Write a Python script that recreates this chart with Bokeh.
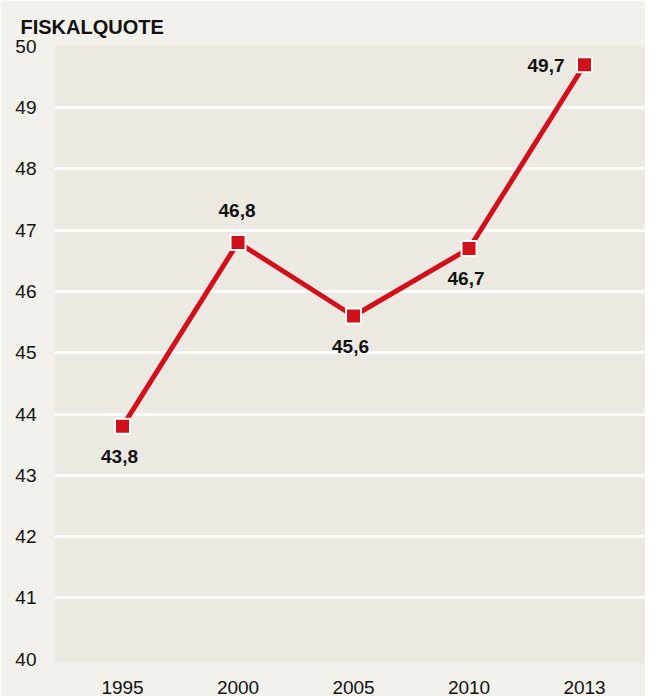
from bokeh.plotting import figure
from bokeh.models import ColumnDataSource, FixedTicker, Grid, Range1d
from bokeh.core.properties import value
from bokeh.embed import file_html
from bokeh.resources import INLINE

# ---- data ----
title = "FISKALQUOTE"
years = ["1995", "2000", "2005", "2010", "2013"]
quote = [43.8, 46.8, 45.6, 46.7, 49.7]
value_labels = ["43,8", "46,8", "45,6", "46,7", "49,7"]
label_side = ["below", "above", "below", "below", "left"]
y_ticks = [40, 41, 42, 43, 44, 45, 46, 47, 48, 49, 50]

RED = "#d0111b"
PLOT_BG = "#ece9e2"
OUTER_BG = "#f3f1ec"
FONT = "Liberation Sans"

idx = list(range(len(years)))

p = figure(width=645, height=696, output_backend="svg", toolbar_location=None,
           x_range=Range1d(-0.589, len(years) - 1 + 0.528),
           y_range=Range1d(39.93, 50.03),
           min_border_left=54, min_border_right=0, min_border_top=44, min_border_bottom=25)

p.title.text = title
p.title.text_font = FONT
p.title.text_font_style = "bold"
p.title.text_font_size = "20px"
p.title.text_color = "#111111"
p.title.align = "left"
p.title.offset = -34
p.title.standoff = 14

p.background_fill_color = PLOT_BG
p.border_fill_color = OUTER_BG
p.outline_line_color = None

p.xgrid.visible = False
p.ygrid.visible = False
grid = Grid(dimension=1, ticker=FixedTicker(ticks=y_ticks[1:-1]),
            grid_line_color="white", grid_line_width=2.5)
p.add_layout(grid)

for ax in (p.xaxis, p.yaxis):
    ax.axis_line_color = None
    ax.major_tick_line_color = None
    ax.minor_tick_line_color = None
    ax.major_label_text_font = FONT
    ax.major_label_text_font_size = "19px"
    ax.major_label_text_color = "#111111"

p.yaxis.ticker = FixedTicker(ticks=y_ticks)
p.yaxis.major_label_standoff = 12
p.xaxis.ticker = FixedTicker(ticks=idx)
p.xaxis.major_label_overrides = {i: y for i, y in zip(idx, years)}
p.xaxis.major_label_standoff = 11

src = ColumnDataSource(dict(x=idx, y=quote, lab=value_labels))
p.line("x", "y", source=src, line_color=RED, line_width=5)
p.scatter("x", "y", source=src, marker="square", size=15,
          fill_color=RED, line_color="white", line_width=2)

offsets = {"below": (-3, 30, "center"), "above": (-1, -32, "center"), "left": (-20, 1, "right")}
for side, (dx, dy, align) in offsets.items():
    sel = [i for i, s in enumerate(label_side) if s == side]
    s = ColumnDataSource(dict(x=[idx[i] for i in sel], y=[quote[i] for i in sel],
                              lab=[value_labels[i] for i in sel]))
    p.text("x", "y", text="lab", source=s, x_offset=dx, y_offset=dy,
           text_align=align, text_baseline="middle",
           text_font=value(FONT), text_font_style="bold",
           text_font_size="19px", text_color="#111111")

open("out.html", "w").write(file_html(p, INLINE))
